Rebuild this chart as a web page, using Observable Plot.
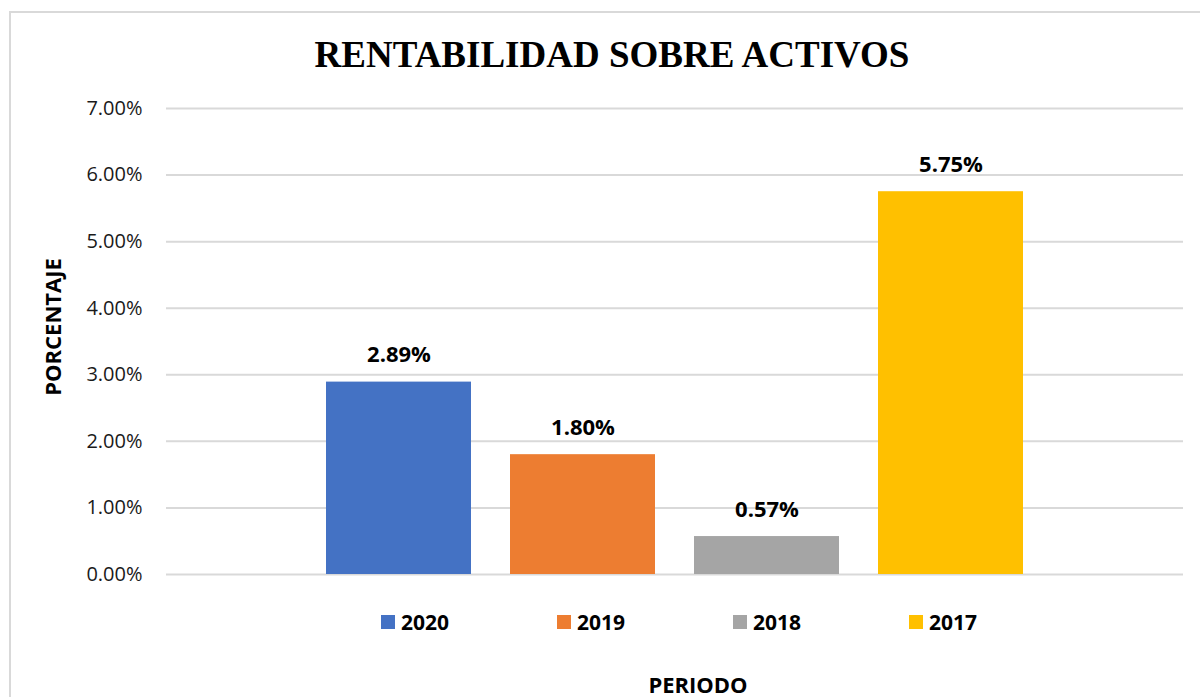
<!DOCTYPE html>
<html>
<head>
<meta charset="utf-8">
<script src="https://cdn.jsdelivr.net/npm/d3@7"></script>
<script src="https://cdn.jsdelivr.net/npm/@observablehq/plot@0.6"></script>
<style>
  html, body { margin: 0; padding: 0; background: #fff; }
  body { width: 1200px; height: 697px; overflow: hidden; position: relative; font-family: "Open Sans", sans-serif; }
  #frame { position: absolute; left: 9px; top: 11px; width: 1300px; height: 800px; border: 2px solid #d9d9d9; box-sizing: border-box; }
  #title { position: absolute; left: 0; width: 1224px; top: 36px; text-align: center; font-family: "Liberation Serif", "Times New Roman", serif; font-weight: bold; font-size: 37px; line-height: 37px; color: #000; }
  #chart { position: absolute; left: 0; top: 80px; }
  #ylabel { position: absolute; left: 52px; top: 327px; transform: translate(-50%, -50%) rotate(-90deg); font-weight: bold; font-size: 22px; line-height: 22px; white-space: nowrap; color: #000; }
  #legend { position: absolute; left: 381px; top: 608px; display: flex; }
  .item { width: 176px; display: flex; align-items: center; font-weight: bold; font-size: 21px; line-height: 28px; color: #000; }
  .sw { width: 14px; height: 14px; margin-right: 6px; }
  #xlabel { position: absolute; left: 0; width: 1396px; top: 670px; text-align: center; font-weight: bold; font-size: 22px; line-height: 28px; color: #000; }
</style>
</head>
<body>
<div id="frame"></div>
<div id="title"></div>
<div id="ylabel"></div>
<div id="chart"></div>
<div id="legend"></div>
<div id="xlabel"></div>
<script>
const titleText = "RENTABILIDAD SOBRE ACTIVOS";
const yLabel = "PORCENTAJE";
const xLabel = "PERIODO";
const years = ["2020", "2019", "2018", "2017"];
const values = [0.0289, 0.0180, 0.0057, 0.0575];
const colors = ["#4472C4", "#ED7D31", "#A5A5A5", "#FFC000"];
const yTicks = [0, 0.01, 0.02, 0.03, 0.04, 0.05, 0.06, 0.07];

const data = years.map((y, i) => ({year: y, value: values[i]}));
const pct = d => (d * 100).toFixed(2) + "%";

document.getElementById("title").textContent = titleText;
document.getElementById("ylabel").textContent = yLabel;
document.getElementById("xlabel").textContent = xLabel;

const legend = document.getElementById("legend");
years.forEach((y, i) => {
  const it = document.createElement("div");
  it.className = "item";
  const sw = document.createElement("div");
  sw.className = "sw";
  sw.style.background = colors[i];
  const t = document.createElement("span");
  t.textContent = y;
  it.appendChild(sw);
  it.appendChild(t);
  legend.appendChild(it);
});

const chart = Plot.plot({
  width: 1200,
  height: 520,
  marginLeft: 166,
  marginRight: 17,
  marginTop: 28,
  marginBottom: 26,
  style: {fontFamily: "'Open Sans', sans-serif", color: "#000", background: "transparent"},
  x: {domain: years, range: [304.5, 1043.5], paddingInner: 0.2135, paddingOuter: 0.1067, axis: null},
  y: {domain: [0, 0.07], ticks: yTicks},
  color: {domain: years, range: colors},
  marks: [
    Plot.gridY(yTicks, {stroke: "#d9d9d9", strokeOpacity: 1, strokeWidth: 2}),
    Plot.axisY(yTicks, {tickSize: 0, tickPadding: 24, tickFormat: pct, fontSize: 20, fill: "#1a1a1a", label: null}),
    Plot.barY(data, {x: "year", y: "value", fill: "year"}),
    Plot.text(data, {x: "year", y: "value", text: d => pct(d.value), dy: -27, fontSize: 22, fontWeight: "bold", fill: "#000"})
  ]
});
document.getElementById("chart").appendChild(chart);
</script>
</body>
</html>
